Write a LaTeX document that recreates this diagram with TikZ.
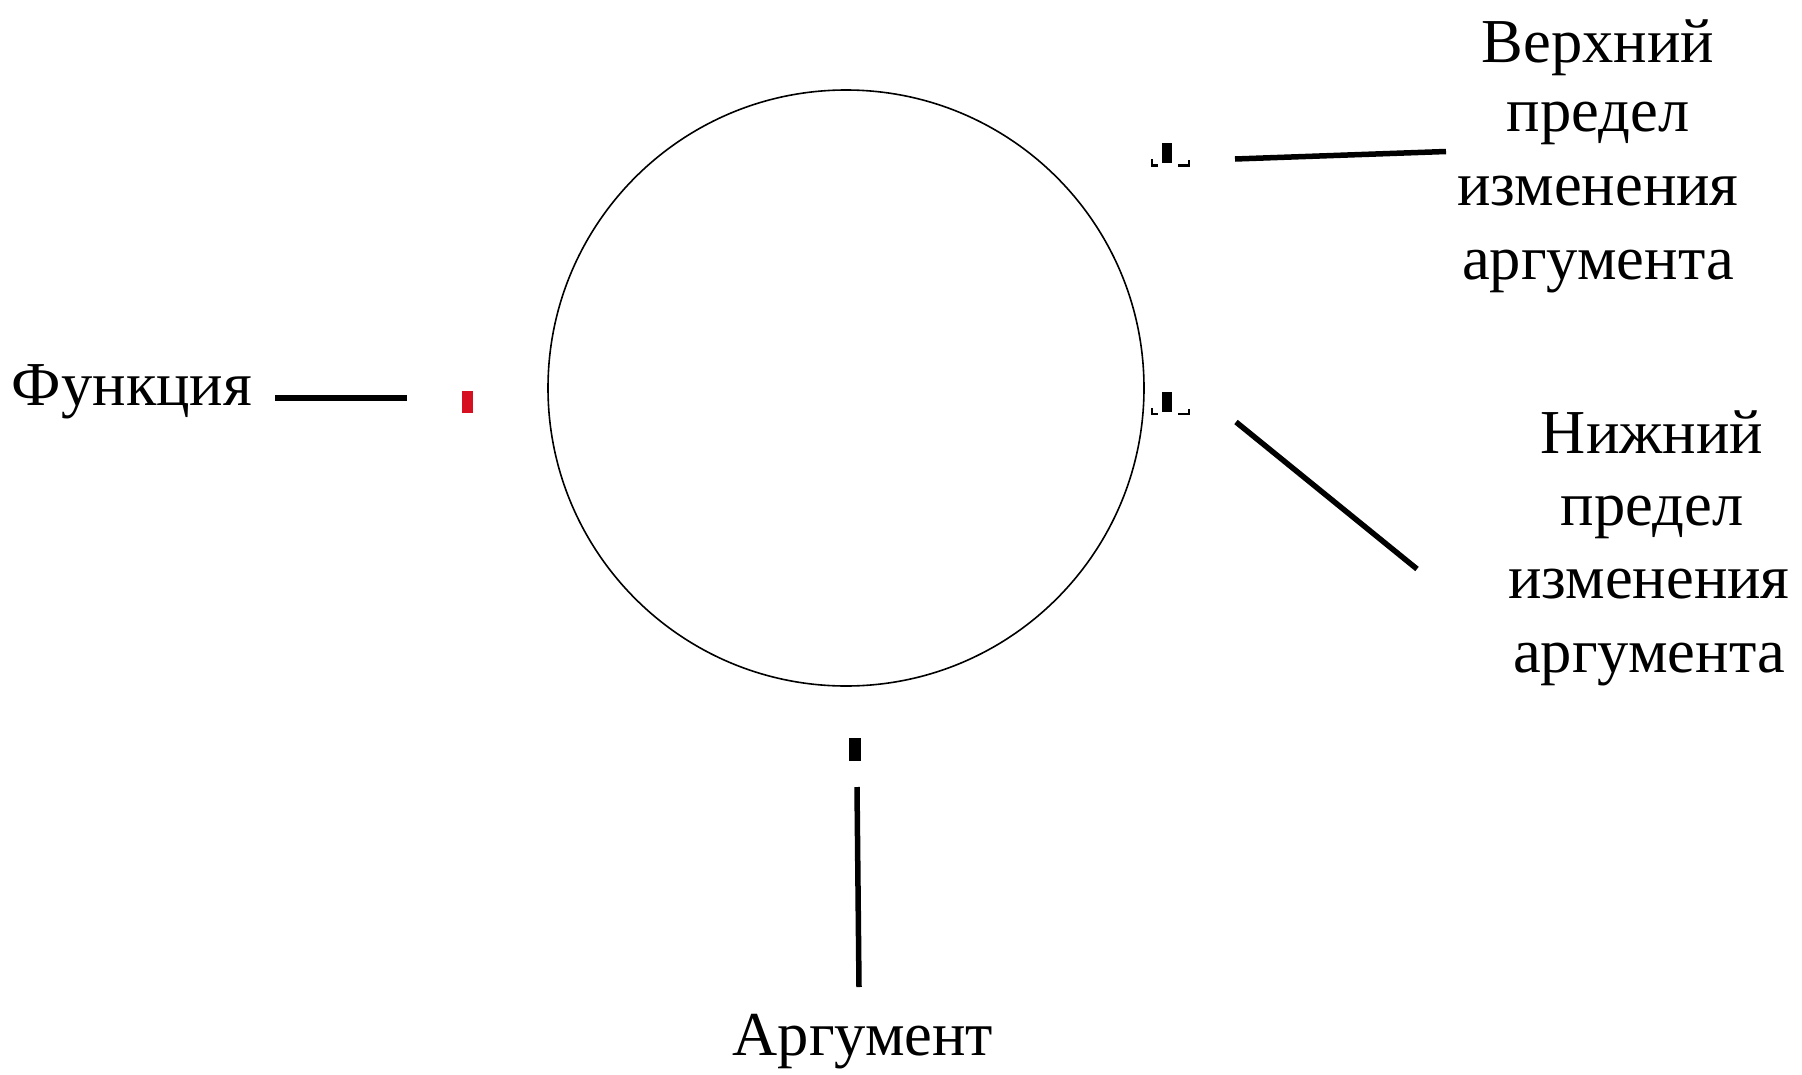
\documentclass[tikz,border=0pt]{standalone}
\usepackage{fontspec}
\setmainfont{Liberation Serif}
\definecolor{markred}{RGB}{214,16,32}
\tikzset{
  lbl/.style={anchor=base, inner sep=0pt, font=\fontsize{62.5}{72}\selectfont},
  lead/.style={line width=5.5pt},
  markbox/.style={fill=black, draw=none, minimum width=10pt, minimum height=20pt, inner sep=0pt},
  hook/.style={line width=2.5pt},
}
\begin{document}
\begin{tikzpicture}[x=1pt,y=-1pt]
\useasboundingbox (0,0) rectangle (1802,1074);
% circle
\node[circle, draw, line width=1.6pt, minimum size=596pt, inner sep=0pt] (c) at (846,388) {};
% marks
\node[markbox, fill=markred, minimum width=11pt, minimum height=22pt] (mf) at (467.5,402) {};
\node[markbox] (mu) at (1167,153) {};
\node[markbox] (ml) at (1167,402) {};
\node[markbox, minimum width=12pt, minimum height=23pt] (ma) at (855,749.5) {};
\draw[hook] (1152,159) -- (1152,165.5) -- (1158,165.5);
\draw[hook] (1178,165.5) -- (1189,165.5) -- (1189,160);
\draw[hook] (1152,408) -- (1152,414) -- (1158,414);
\draw[hook] (1178,414) -- (1189,414) -- (1189,408.5);
% labels
\node[lbl] (tf) at (132,405) {Функция};
\node[lbl] (tu1) at (1598,62) {Верхний};
\node[lbl] (tu2) at (1598,131) {предел};
\node[lbl] (tu3) at (1598,205) {изменения};
\node[lbl] (tu4) at (1598,279) {аргумента};
\node[lbl] (tl1) at (1652,453) {Нижний};
\node[lbl] (tl2) at (1652,525) {предел};
\node[lbl] (tl3) at (1649,598) {изменения};
\node[lbl] (tl4) at (1649,672) {аргумента};
\node[lbl] (ta) at (863,1055) {Аргумент};
% leader lines
\coordinate (f1) at (275,398);
\coordinate (f2) at (407,398);
\coordinate (u1) at (1235,159);
\coordinate (u2) at (1446,151.5);
\coordinate (l1) at (1236,422);
\coordinate (l2) at (1417,569);
\coordinate (a1) at (857,787);
\coordinate (a2) at (859,987);
\draw[lead] (f1) -- (f2);
\draw[lead] (u1) -- (u2);
\draw[lead] (l1) -- (l2);
\draw[lead] (a1) -- (a2);
\end{tikzpicture}
\end{document}
